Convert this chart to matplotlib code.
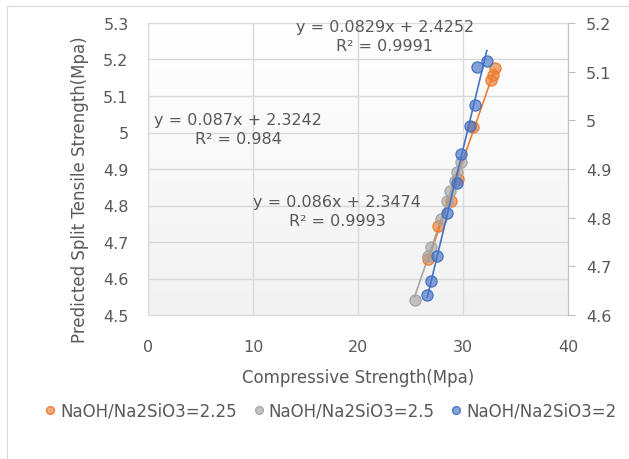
import numpy as np
import matplotlib
matplotlib.use("Agg")
import matplotlib.pyplot as plt
from matplotlib.patches import Rectangle

# Datos
x_225 = [33.03, 32.84, 32.65, 31.00, 29.53, 28.90, 27.62, 26.66]
y_225 = [5.176, 5.158, 5.144, 5.016, 4.873, 4.813, 4.743, 4.653]

x_25 = [29.85, 29.47, 29.21, 28.76, 28.52, 27.88, 26.99, 26.66, 25.39]
y_25 = [4.918, 4.891, 4.868, 4.841, 4.813, 4.763, 4.685, 4.662, 4.542]

x_2 = [32.27, 31.29, 31.16, 30.67, 29.85, 29.40, 28.52, 27.56, 26.99, 26.60]
y_2 = [5.122, 5.110, 5.032, 4.989, 4.931, 4.871, 4.810, 4.721, 4.670, 4.641]

etiquetas = ["NaOH/Na2SiO3=2.25", "NaOH/Na2SiO3=2.5", "NaOH/Na2SiO3=2"]
ecuaciones = ["y = 0.087x + 2.3242\nR² = 0.984",
              "y = 0.086x + 2.3474\nR² = 0.9993",
              "y = 0.0829x + 2.4252\nR² = 0.9991"]

NARANJA = "#ED7D31"
GRIS = "#A5A5A5"
AZUL = "#4472C4"
TEXTO = "#595959"
REJILLA = "#D9D9D9"

W, H = 629, 460
fig = plt.figure(figsize=(W / 100, H / 100), dpi=100)
fig.patch.set_facecolor("white")
fig.patches.append(Rectangle((7 / W, -0.1), 1.2, 1 - 7 / H + 0.1, transform=fig.transFigure,
                             fill=False, edgecolor="#D9D9D9", linewidth=0.8))

ax = fig.add_axes([148 / W, 1 - 316 / H, 420 / W, 292 / H])
ax2 = ax.twinx()

# fondo degradado del area de trazado
grad = np.linspace(0, 1, 256).reshape(-1, 1)
ax.imshow(grad, extent=[0, 1, 0, 1], transform=ax.transAxes, aspect="auto",
          cmap=matplotlib.colors.LinearSegmentedColormap.from_list("g", ["#F2F2F2", "#FFFFFF"]),
          origin="lower", zorder=0)

ax.set_xlim(0, 40)
ax.set_ylim(4.5, 5.3)
ax2.set_ylim(4.6, 5.2)
ax.set_xticks(np.arange(0, 41, 10))
ax.set_yticks(np.round(np.arange(4.5, 5.31, 0.1), 1))
ax.set_yticklabels(["4.5", "4.6", "4.7", "4.8", "4.9", "5", "5.1", "5.2", "5.3"])
ax2.set_yticks(np.round(np.arange(4.6, 5.21, 0.1), 1))
ax2.set_yticklabels(["4.6", "4.7", "4.8", "4.9", "5", "5.1", "5.2"])

ax.grid(True, color=REJILLA, linewidth=1.0, zorder=1)
ax.set_axisbelow(True)
for s in ["top", "right"]:
    ax.spines[s].set_visible(False)
for s in ["left", "bottom"]:
    ax.spines[s].set_color(REJILLA)
for s in ["top", "left", "bottom"]:
    ax2.spines[s].set_visible(False)
ax2.spines["right"].set_color("#BFBFBF")

ax.tick_params(axis="y", length=0, pad=14, labelsize=11.5, labelcolor=TEXTO)
ax.tick_params(axis="x", length=0, pad=17, labelsize=11.5, labelcolor=TEXTO)
ax2.tick_params(axis="y", length=5, width=0.8, color="#BFBFBF", pad=8, labelsize=11.5, labelcolor=TEXTO)


def serie(eje, x, y, color, etiqueta):
    x = np.array(x)
    y = np.array(y)
    m, b = np.polyfit(x, y, 1)
    xs = np.array([x.min(), x.max()])
    eje.plot(xs, m * xs + b, color=color, linewidth=1.2, zorder=3)
    eje.plot(x, y, "o", markersize=8, markerfacecolor=matplotlib.colors.to_rgba(color, 0.65),
             markeredgecolor=color, markeredgewidth=0.9, zorder=4, label=etiqueta)


serie(ax, x_225, y_225, NARANJA, etiquetas[0])
serie(ax, x_25, y_25, GRIS, etiquetas[1])
serie(ax2, x_2, y_2, AZUL, etiquetas[2])

# ecuaciones de las lineas de tendencia
fig.text(238 / W, 1 - 130 / H, ecuaciones[0], ha="center", va="center", fontsize=11.5,
         color=TEXTO, linespacing=1.3)
fig.text(337 / W, 1 - 212 / H, ecuaciones[1], ha="center", va="center", fontsize=11.5,
         color=TEXTO, linespacing=1.3)
fig.text(385 / W, 1 - 37 / H, ecuaciones[2], ha="center", va="center", fontsize=11.5,
         color=TEXTO, linespacing=1.3)

fig.text(358 / W, 1 - 378 / H, "Compressive Strength(Mpa)", ha="center", va="center",
         fontsize=12, color=TEXTO)
fig.text(80 / W, 1 - 190 / H, "Predicted Split Tensile Strength(Mpa)", ha="center", va="center",
         rotation=90, fontsize=12, color=TEXTO)

h1, l1 = ax.get_legend_handles_labels()
h2, l2 = ax2.get_legend_handles_labels()
fig.legend(h1 + h2, l1 + l2, loc="center", bbox_to_anchor=(331 / W, 1 - 412 / H), ncol=3,
           frameon=False, fontsize=12, labelcolor=TEXTO, handlelength=0.6, handletextpad=0.3,
           columnspacing=1.0, markerscale=0.7)

fig.savefig("out.png", dpi=100)
